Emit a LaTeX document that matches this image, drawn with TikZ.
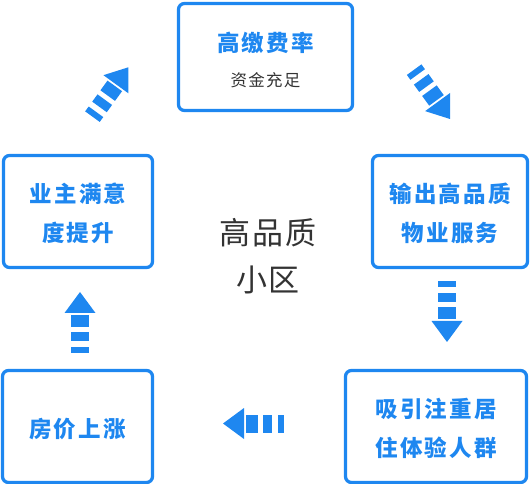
\documentclass[tikz,border=0pt]{standalone}
\usepackage{fontspec}
\setmainfont{Noto Sans CJK SC}
\definecolor{cblue}{HTML}{1E87F0}
\definecolor{cgray}{HTML}{333333}
% lines of a card, set a little lower than the box centre
\newcommand{\cardtext}[2][-3pt]{\raisebox{#1}[\height][\depth]{\begin{tabular}{@{}c@{}}#2\end{tabular}}}
\tikzset{
  flowarrow/.pic={
    \fill[cblue] (0,0) -- (-21,15.5) -- (-21,-15.5) -- cycle;
    \fill[cblue] (-23,-9) rectangle (-35,9);
    \fill[cblue] (-40,-9) rectangle (-49,9);
    \fill[cblue] (-55,-9) rectangle (-61,9);
  }
}
\begin{document}
\begin{tikzpicture}[x=1pt, y=-1pt,
  card/.style={draw=cblue, line width=3.3pt, rounded corners=6pt, text=cblue,
    font=\bfseries\fontsize{22.5}{39}\selectfont\addfontfeature{LetterSpace=10}},
]
\useasboundingbox (0,0) rectangle (531,484);
\node[card, minimum width=174pt, minimum height=107pt] (fee) at (265.5,57)
  {\cardtext[-4.5pt]{高缴费率\\[-4pt]{\mdseries\color{cgray}\fontsize{16.5}{16.5}\selectfont\addfontfeature{LetterSpace=8}资金充足}}};
\node[card, minimum width=155pt, minimum height=112pt] (service) at (450,211.5) {\cardtext{输出高品质\\物业服务}};
\node[card, minimum width=181pt, minimum height=112pt] (resident) at (436,426.5) {\cardtext{吸引注重居\\住体验人群}};
\node[card, minimum width=150pt, minimum height=112pt] (price) at (77.5,426.5) {\cardtext{房价上涨}};
\node[card, minimum width=149pt, minimum height=112pt] (owner) at (78,211.5) {\cardtext{业主满意\\度提升}};
\node[text=cgray, align=center, font=\fontsize{31}{47}\selectfont\addfontfeature{LetterSpace=6}] (estate) at (268,256.5) {高品质\\小区};
\pic[rotate=-54] at (450,119) {flowarrow};
\pic[rotate=-90] at (447,342) {flowarrow};
\pic[rotate=180] at (223,423.5) {flowarrow};
\pic[rotate=90] at (80,292) {flowarrow};
\pic[rotate=54] at (128.3,67.3) {flowarrow};
\end{tikzpicture}
\end{document}
